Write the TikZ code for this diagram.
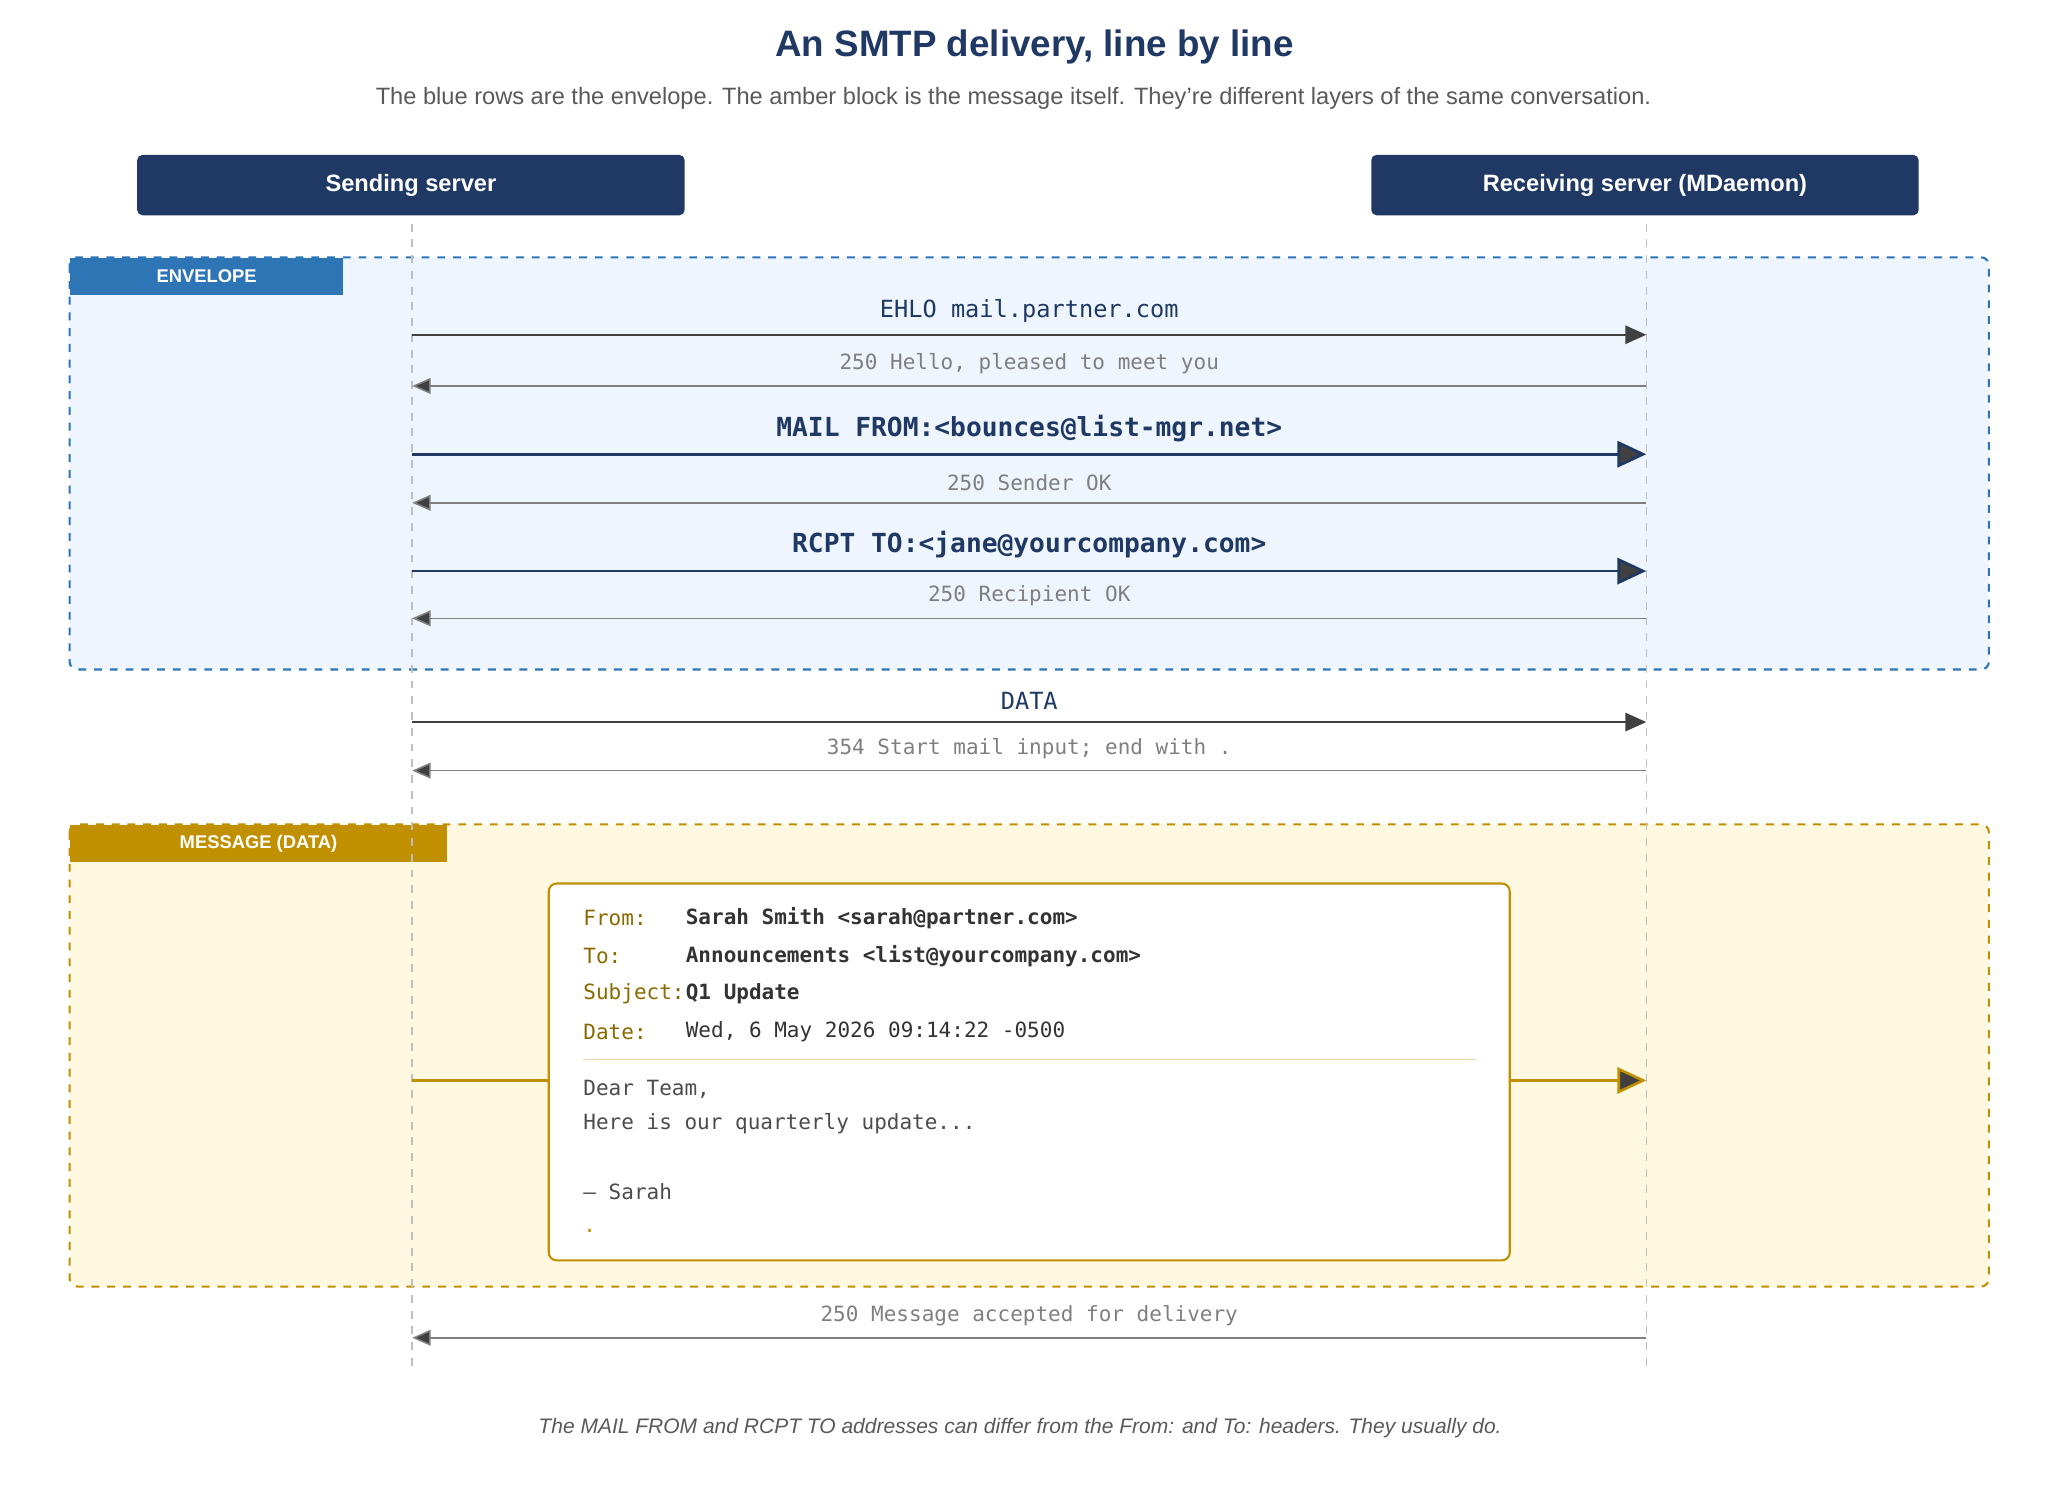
\documentclass[tikz,border=0pt]{standalone}
\usepackage{fontspec}
\setmainfont{Liberation Sans}
\setmonofont{DejaVu Sans Mono}
\usetikzlibrary{arrows.meta,positioning}

\definecolor{navy}{HTML}{1F3864}
\definecolor{envblue}{HTML}{2E75B6}
\definecolor{envfill}{HTML}{EFF5FC}
\definecolor{amber}{HTML}{C09000}
\definecolor{msgfill}{HTML}{FFF8E1}
\definecolor{ink}{HTML}{404040}
\definecolor{reply}{HTML}{7F7F7F}
\definecolor{hdrkey}{HTML}{8A6A00}

\tikzset{
  actor/.style={fill=navy,rounded corners=2pt,text=white,font=\bfseries\fontsize{9}{11}\selectfont,minimum width=208.5pt,minimum height=23pt},
  lifeline/.style={draw=black!25,dashed,line width=0.6pt},
  layer/.style={dashed,line width=0.8pt,rounded corners=3pt},
  tag/.style={anchor=north west,text=white,font=\bfseries\fontsize{7}{8}\selectfont,inner sep=0pt,minimum height=14pt},
  send/.style={draw=ink,line width=0.8pt,-{Triangle[length=8pt,width=7pt]}},
  cmd/.style={draw=navy,line width=1pt,-{Triangle[length=11pt,width=10pt,fill=ink]}},
  back/.style={draw=reply,line width=0.6pt,-{Triangle[length=7pt,width=6pt,fill=ink]}},
  lbl/.style={font=\ttfamily\fontsize{9}{10}\selectfont,text=navy},
  cmdlbl/.style={font=\ttfamily\bfseries\fontsize{10}{11}\selectfont,text=navy},
  rlbl/.style={font=\ttfamily\fontsize{8}{9}\selectfont,text=reply},
  mline/.style={anchor=west,font=\ttfamily\fontsize{8}{9}\selectfont,inner sep=0pt},
}

\begin{document}
\begin{tikzpicture}[x=0.5pt,y=-0.5pt]
  \useasboundingbox (0,0) rectangle (1560,1144);

  % title
  \node (title) at (788,36) {\bfseries\fontsize{14}{16}\selectfont\color{navy}An SMTP delivery, line by line};
  \node (sub) at (772,75) {\fontsize{9}{11}\selectfont\color{black!65}The blue rows are the envelope. The amber block is the message itself. They're different layers of the same conversation.};

  % layers
  \draw[layer,draw=envblue,fill=envfill] (53,196) rectangle (1515,510);
  \node[tag,fill=envblue,minimum width=104pt] (envtag) at (53,196) {ENVELOPE};
  \draw[layer,draw=amber,fill=msgfill] (53,628) rectangle (1515,980);
  \node[tag,fill=amber,minimum width=143.5pt] (msgtag) at (53,628) {MESSAGE (DATA)};

  % actors and lifelines
  \node[actor] (snd) at (313,141) {Sending server};
  \node[actor] (rcv) at (1253,141) {Receiving server (MDaemon)};
  \coordinate (snd-end) at (314,1042);
  \coordinate (rcv-end) at (1254,1042);
  \draw[lifeline] (snd.south -| snd-end) ++(0,6) -- (snd-end);
  \draw[lifeline] (rcv.south -| rcv-end) ++(0,6) -- (rcv-end);

  \foreach \n/\y in {ehlo/255,hello/294,from/346,sok/383,rcpt/435,rok/471,data/550,go/587,body/823,done/1019} {
    \coordinate (s-\n) at (314,\y);
    \coordinate (r-\n) at (1254,\y);
  }

  % envelope
  \draw[send] (s-ehlo) -- node[lbl,above=1pt] {EHLO mail.partner.com} (r-ehlo);
  \draw[back] (r-hello) -- node[rlbl,above=1pt] {250 Hello, pleased to meet you} (s-hello);
  \draw[cmd] (s-from) -- node[cmdlbl,above=1pt] {MAIL FROM:<bounces@list-mgr.net>} (r-from);
  \draw[back] (r-sok) -- node[rlbl,above=1pt] {250 Sender OK} (s-sok);
  \draw[cmd] (s-rcpt) -- node[cmdlbl,above=1pt] {RCPT TO:<jane@yourcompany.com>} (r-rcpt);
  \draw[back] (r-rok) -- node[rlbl,above=1pt] {250 Recipient OK} (s-rok);

  % data
  \draw[send] (s-data) -- node[lbl,above=1pt] {DATA} (r-data);
  \draw[back] (r-go) -- node[rlbl,above=1pt] {354 Start mail input; end with .} (s-go);

  % message card
  \node[draw=amber,fill=white,line width=0.8pt,rounded corners=3pt,minimum width=366pt,minimum height=143.5pt,inner sep=0pt] (card) at (784,816.5) {};
  \draw[amber,line width=1pt] (s-body) -- (card.west |- s-body);
  \draw[amber,line width=1pt,-{Triangle[length=11pt,width=10pt,fill=ink]}] (card.east |- r-body) -- (r-body);
  \foreach \k/\v/\y/\w in {From:/Sarah Smith <sarah@partner.com>/699/\bfseries,To:/Announcements <list@yourcompany.com>/728/\bfseries,Subject:/Q1 Update/757/\bfseries,Date:/{Wed, 6 May 2026 09:14:22 -0500}/786/\mdseries} {
    \node[mline,text=hdrkey] at (444,\y) {\k};
    \node[mline,text=black!80] at (522,\y) {\w\v};
  }
  \draw[amber!35,line width=0.6pt] (444,807) -- (1124,807);
  \node[mline,text=black!70] (l1) at (444,830) {Dear Team,};
  \node[mline,text=black!70] (l2) at (444,856) {Here is our quarterly update...};
  \node[mline,text=black!70] (l3) at (444,908) {— Sarah};
  \node[mline,text=amber] (l4) at (444,938) {.};

  \draw[back] (r-done) -- node[rlbl,above=1pt] {250 Message accepted for delivery} (s-done);

  \node (foot) at (777,1088) {\itshape\fontsize{8}{10}\selectfont\color{black!65}The MAIL FROM and RCPT TO addresses can differ from the From: and To: headers. They usually do.};
\end{tikzpicture}
\end{document}
